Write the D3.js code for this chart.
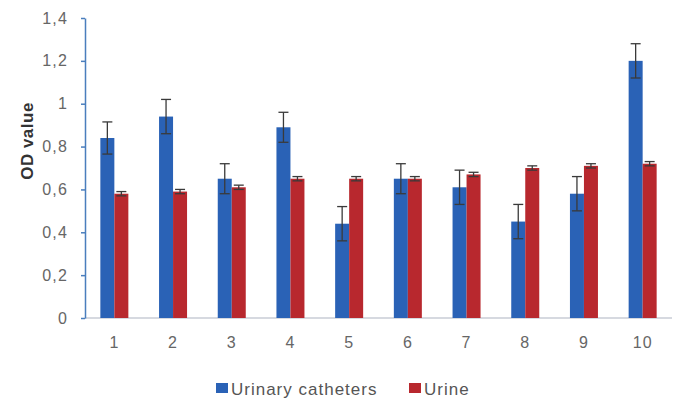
<!DOCTYPE html>
<html>
<head>
<meta charset="utf-8">
<script src="https://cdn.jsdelivr.net/npm/d3@7"></script>
<style>
  body { margin: 0; background: #fff; }
  text { font-family: "Liberation Sans", Arial, sans-serif; }
</style>
</head>
<body>
<div id="chart"></div>
<script>
const categories = ["1", "2", "3", "4", "5", "6", "7", "8", "9", "10"];
const seriesNames = ["Urinary catheters", "Urine"];
const catheterValues = [0.84, 0.94, 0.65, 0.89, 0.44, 0.65, 0.61, 0.45, 0.58, 1.20];
const catheterErrors = [0.075, 0.08, 0.07, 0.07, 0.08, 0.07, 0.08, 0.08, 0.08, 0.08];
const urineValues = [0.58, 0.59, 0.61, 0.65, 0.65, 0.65, 0.67, 0.70, 0.71, 0.72];
const urineErrors = [0.01, 0.01, 0.01, 0.01, 0.01, 0.01, 0.01, 0.01, 0.01, 0.01];
const yTicks = [0, 0.2, 0.4, 0.6, 0.8, 1, 1.2, 1.4];

const colors = ["#2a62b6", "#b8282e"];

const width = 680, height = 399;
const margin = {top: 18, right: 8, bottom: 81, left: 85};
const innerW = width - margin.left - margin.right,
      innerH = height - margin.top - margin.bottom;

const svg = d3.select("#chart")
  .append("svg")
  .attr("width", width)
  .attr("height", height);

const g = svg.append("g")
  .attr("transform", `translate(${margin.left},${margin.top})`);

const x = d3.scaleBand()
  .domain(categories)
  .range([0, innerW])
  .paddingInner(0)
  .paddingOuter(0);

const xSub = d3.scaleBand()
  .domain(seriesNames)
  .range([x.bandwidth() / 2 - 14, x.bandwidth() / 2 + 14]);

const y = d3.scaleLinear()
  .domain([0, 1.4])
  .range([innerH, 0]);

// build rows for the bars
const rows = categories.map((c, i) => ({
  cat: c,
  vals: [
    {key: seriesNames[0], v: catheterValues[i], e: catheterErrors[i]},
    {key: seriesNames[1], v: urineValues[i], e: urineErrors[i]}
  ]
}));

// x axis line
g.append("line")
  .attr("x1", 0).attr("x2", innerW)
  .attr("y1", innerH).attr("y2", innerH)
  .attr("stroke", "#c8cdd6")
  .attr("stroke-width", 1.5);

// x labels
const xAxis = g.append("g")
  .attr("transform", `translate(0,${innerH})`)
  .call(d3.axisBottom(x).tickSize(0).tickPadding(19));
xAxis.select(".domain").remove();
xAxis.selectAll("text")
  .style("font-size", "16px")
  .style("letter-spacing", "1px")
  .style("fill", "#666");

// y axis
const yAxis = g.append("g")
  .call(d3.axisLeft(y).tickValues(yTicks).tickSize(4).tickSizeOuter(0).tickPadding(13)
    .tickFormat(d => d3.format("~g")(d).replace(".", ",")));
yAxis.select(".domain").attr("stroke", "#4a7ebd").attr("stroke-width", 1.5);
yAxis.selectAll(".tick line").attr("stroke", "#4a7ebd").attr("stroke-width", 1.5);
yAxis.selectAll("text")
  .style("font-size", "16px")
  .style("letter-spacing", "1.2px")
  .style("fill", "#666");

// y title
g.append("text")
  .attr("transform", "rotate(-90)")
  .attr("x", -(141 - margin.top))
  .attr("y", -52)
  .attr("text-anchor", "middle")
  .style("font-size", "17px")
  .style("font-weight", "bold")
  .style("letter-spacing", "0.5px")
  .style("fill", "#333")
  .text("OD value");

// bars
const groups = g.selectAll(".grp")
  .data(rows)
  .join("g")
  .attr("class", "grp")
  .attr("transform", d => `translate(${x(d.cat)},0)`);

groups.selectAll("rect")
  .data(d => d.vals)
  .join("rect")
  .attr("x", d => xSub(d.key))
  .attr("y", d => y(d.v))
  .attr("width", xSub.bandwidth())
  .attr("height", d => innerH - y(d.v))
  .attr("fill", (d, i) => colors[i]);

// error bars
const err = groups.selectAll(".err")
  .data(d => d.vals)
  .join("g")
  .attr("class", "err")
  .attr("stroke", "#3a3a3a")
  .attr("stroke-width", 1.3);

const cx = d => xSub(d.key) + xSub.bandwidth() / 2;
err.append("line")
  .attr("x1", cx).attr("x2", cx)
  .attr("y1", d => y(d.v + d.e)).attr("y2", d => y(d.v - d.e));
err.append("line")
  .attr("x1", d => cx(d) - 5).attr("x2", d => cx(d) + 5)
  .attr("y1", d => y(d.v + d.e)).attr("y2", d => y(d.v + d.e));
err.append("line")
  .attr("x1", d => cx(d) - 5).attr("x2", d => cx(d) + 5)
  .attr("y1", d => y(d.v - d.e)).attr("y2", d => y(d.v - d.e));

// legend
const legend = svg.append("g");
const legendX = [216, 409];
seriesNames.forEach((name, i) => {
  legend.append("rect")
    .attr("x", legendX[i])
    .attr("y", 383)
    .attr("width", 12)
    .attr("height", 10)
    .attr("fill", colors[i]);
  legend.append("text")
    .attr("x", legendX[i] + 15)
    .attr("y", 395)
    .style("font-size", "17px")
    .style("letter-spacing", "1px")
    .style("fill", "#555")
    .text(name);
});
</script>
</body>
</html>
